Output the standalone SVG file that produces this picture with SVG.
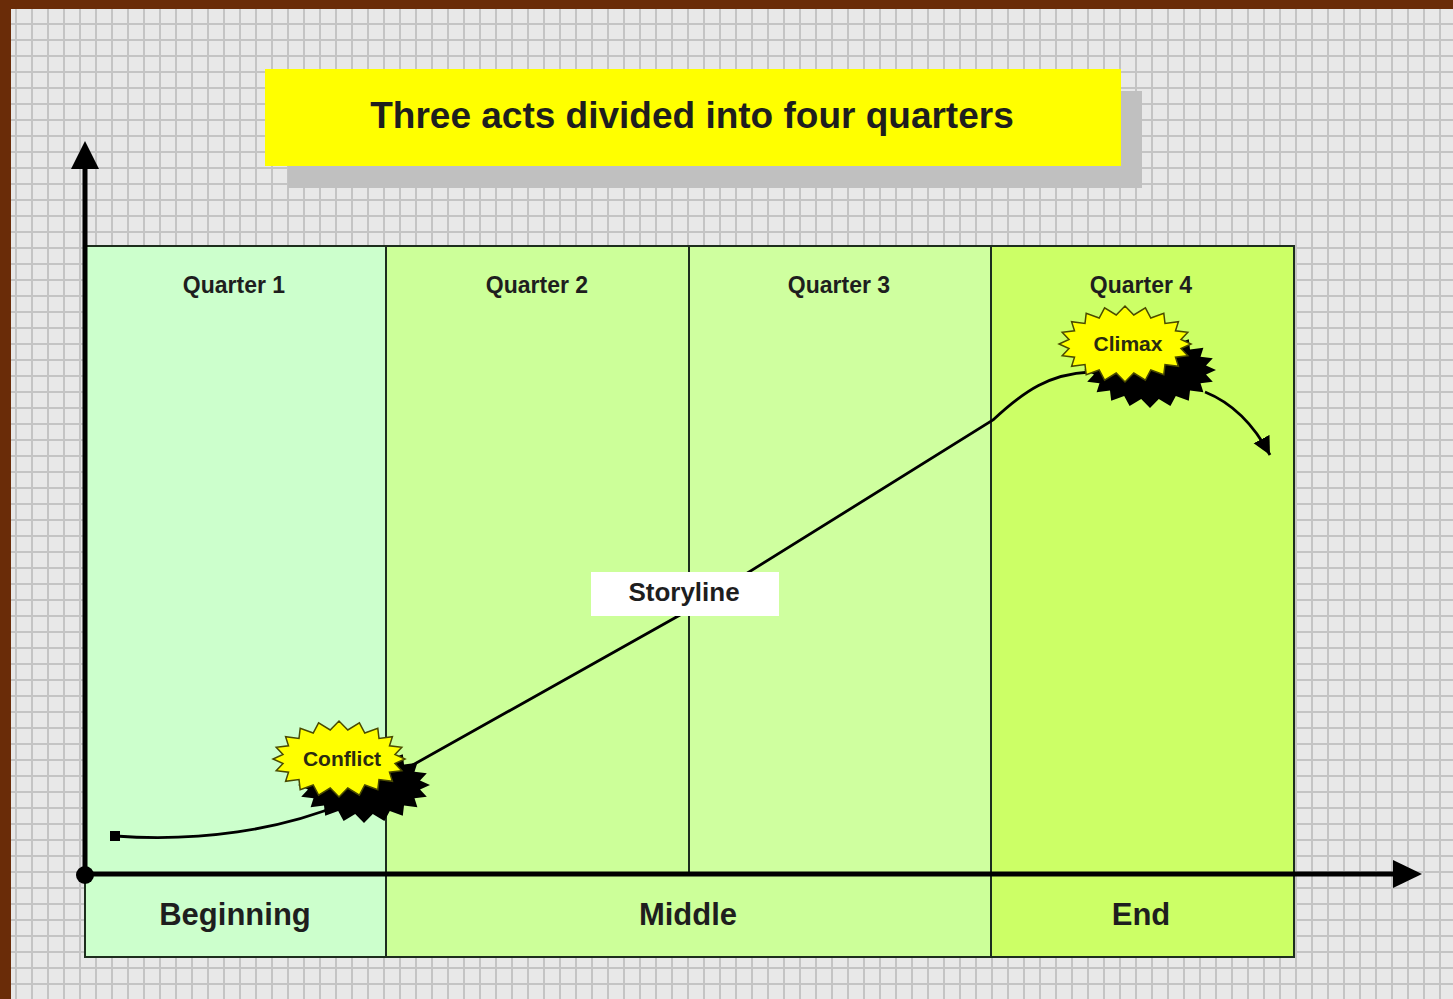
<svg xmlns="http://www.w3.org/2000/svg" xmlns:xlink="http://www.w3.org/1999/xlink" width="1453" height="999" viewBox="0 0 1453 999">
<style>
.lbl{font-family:"Liberation Sans",Arial,sans-serif;font-weight:bold;fill:#1e1e1e;text-anchor:middle}
.q{font-size:23px}
.act{font-size:31px}
.burst{font-size:21px;fill:#2a2a10}
.zone{stroke:#1d2e1d;stroke-width:2}
.axis{stroke:#000;stroke-width:5;fill:none}
</style>
<defs>
<pattern id="grid" patternUnits="userSpaceOnUse" x="-1" y="7" width="16" height="16">
<rect width="16" height="16" fill="#e8e8e8"/>
<rect width="2" height="16" fill="#c4c4c4"/>
<rect width="16" height="2" fill="#c4c4c4"/>
</pattern>
<polygon id="star" points="66,0 56,4.5 62.8,11.7 50.5,13.2 53.4,22.3 40,20.5 38.8,30.7 25.8,26 20.4,36.1 8.8,29 0,38 -8.8,29 -20.4,36.1 -25.8,26 -38.8,30.7 -40,20.5 -53.4,22.3 -50.5,13.2 -62.8,11.7 -56,4.5 -66,0 -56,-4.5 -62.8,-11.7 -50.5,-13.2 -53.4,-22.3 -40,-20.5 -38.8,-30.7 -25.8,-26 -20.4,-36.1 -8.8,-29 0,-38 8.8,-29 20.4,-36.1 25.8,-26 38.8,-30.7 40,-20.5 53.4,-22.3 50.5,-13.2 62.8,-11.7 56,-4.5"/>
<marker id="arr" markerUnits="userSpaceOnUse" markerWidth="22" markerHeight="22" refX="18" refY="9" orient="auto">
<path d="M0,0 L18,9 L0,18 Z" fill="#000"/>
</marker>
</defs>
<rect width="1453" height="999" fill="url(#grid)"/>
<rect x="0" y="0" width="1453" height="9" fill="#6a2c08"/>
<rect x="0" y="0" width="11" height="999" fill="#6a2c08"/>

<g id="title">
<rect x="288" y="91" width="854" height="97" fill="#c0c0c0"/>
<rect x="265" y="69" width="856" height="97" fill="#ffff00"/>
<text class="lbl" x="692" y="128" font-size="37" fill="#111">Three acts divided into four quarters</text>
</g>

<g id="quarter1">
<rect class="zone" x="85" y="246" width="301" height="629" fill="#ccffcc"/>
<text class="lbl q" x="234" y="293">Quarter 1</text>
</g>
<g id="quarter2">
<rect class="zone" x="386" y="246" width="303" height="629" fill="#ccff99"/>
<text class="lbl q" x="537" y="293">Quarter 2</text>
</g>
<g id="quarter3">
<rect class="zone" x="689" y="246" width="302" height="629" fill="#cfff9f"/>
<text class="lbl q" x="839" y="293">Quarter 3</text>
</g>
<g id="quarter4">
<rect class="zone" x="991" y="246" width="303" height="629" fill="#ccff66"/>
<text class="lbl q" x="1141" y="293">Quarter 4</text>
</g>
<g id="beginning">
<rect class="zone" x="85" y="875" width="301" height="82" fill="#ccffcc"/>
<text class="lbl act" x="235" y="925">Beginning</text>
</g>
<g id="middle">
<rect class="zone" x="386" y="875" width="605" height="82" fill="#ccff99"/>
<text class="lbl act" x="688" y="925">Middle</text>
</g>
<g id="end">
<rect class="zone" x="991" y="875" width="303" height="82" fill="#ccff66"/>
<text class="lbl act" x="1141" y="925">End</text>
</g>

<g id="connectors">
<path class="axis" d="M85,875 V168"/>
<path d="M85,141 L99,169 L71,169 Z" fill="#000"/>
<path class="axis" d="M85,874 H1395"/>
<path d="M1422,874 L1393,860 L1393,888 Z" fill="#000"/>
<circle cx="85" cy="875" r="9" fill="#000"/>
<rect x="110" y="831" width="10" height="10" fill="#000"/>
<path d="M115,836 C200,842 280,830 345,803 L680,615 L993,420 C1025,390 1050,374 1090,372" fill="none" stroke="#000" stroke-width="2.8"/>
<path d="M1205,392 Q1245,408 1270,455" fill="none" stroke="#000" stroke-width="2.8" marker-end="url(#arr)"/>
</g>

<g id="storyline">
<rect x="591" y="572" width="188" height="44" fill="#ffffff"/>
<text class="lbl" x="684" y="601" font-size="26">Storyline</text>
</g>

<g id="conflict">
<use xlink:href="#star" transform="translate(364,785)" fill="#000"/>
<use xlink:href="#star" transform="translate(339,759)" fill="#ffff00" stroke="#4a4a00" stroke-width="1.5"/>
<text class="lbl burst" x="342" y="766">Conflict</text>
</g>

<g id="climax">
<use xlink:href="#star" transform="translate(1150,370)" fill="#000"/>
<use xlink:href="#star" transform="translate(1125,344)" fill="#ffff00" stroke="#4a4a00" stroke-width="1.5"/>
<text class="lbl burst" x="1128" y="351">Climax</text>
</g>
</svg>
